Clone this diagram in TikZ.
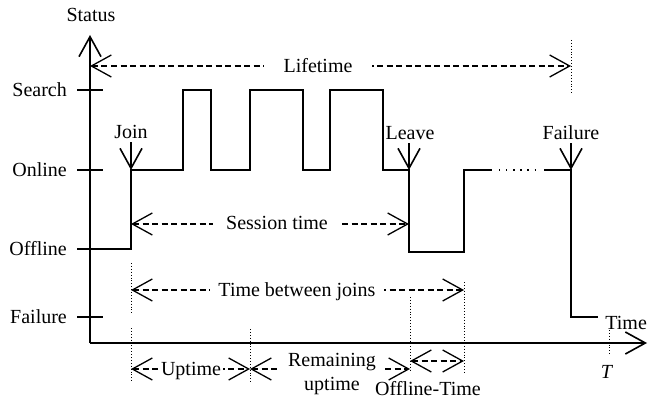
\documentclass[tikz,border=0pt]{standalone}
\usepackage{fontspec}
\setmainfont{Liberation Serif}
\usetikzlibrary{arrows.meta}
\begin{document}
\begin{tikzpicture}[x=1pt, y=1pt, line width=1.6pt,
    >={Straight Barb[length=20pt, width=22pt]},
    font=\fontsize{20}{24}\selectfont,
    meas/.style={line width=1.3pt, dash pattern=on 6pt off 3.5pt},
    guide/.style={line width=0.9pt, dotted},
    lab/.style={fill=white, inner ysep=1pt, text height=13pt, text depth=4pt}]
  \useasboundingbox (0,0) rectangle (648,400);

  % axes
  \coordinate (o) at (90,57);
  \draw[->] (o) -- (90,365);
  \draw[->] (o) -- (647,57);
  \node (status) at (91,385) {Status};
  \node[anchor=base east] (time) at (651,71) {Time};
  \foreach \lab/\y in {Search/310, Online/230, Offline/151, Failure/83} {
    \draw (77,\y) -- (103,\y);
    \node[anchor=east] (\lab) at (71,\y) {\lab};
  }

  % state of the peer
  \draw (90,151) -- (131,151) -- (131,230) -- (183,230) -- (183,310) -- (211,310)
    -- (211,230) -- (250,230) -- (250,310) -- (303,310) -- (303,230) -- (330,230)
    -- (330,310) -- (383,310) -- (383,230) -- (409,230) -- (409,148) -- (464,148)
    -- (464,230) -- (492,230);
  \draw[line width=1.3pt, dash pattern=on 1.3pt off 5.8pt] (499,230) -- (536,230);
  \draw (544,230) -- (571,230) -- (571,83) -- (598,83);

  % events
  \coordinate (join) at (131,230);
  \coordinate (leave) at (409,230);
  \coordinate (fail) at (571,230);
  \node[anchor=base] (jn) at (131,262) {Join};
  \node[anchor=base] (lv) at (410,261) {Leave};
  \node[anchor=base] (fl) at (571,261) {Failure};
  \draw[->] (join |- jn.south) -- (join);
  \draw[->] (leave |- lv.south) -- (leave);
  \draw[->] (fail |- fl.south) -- (fail);

  % guides
  \draw[guide] (571,360) -- (571,307);
  \draw[guide] (131,137) -- (131,85);
  \draw[guide] (131,72) -- (131,18);
  \draw[guide] (250,71) -- (250,18);
  \draw[guide] (410,103) -- (410,28);
  \draw[guide] (464,118) -- (464,28);
  \draw[guide] (609,70) -- (609,44);
  \node[anchor=base] (tend) at (607,22) {\textit{T}};

  % durations
  \draw[<->, meas] (90,334) -- (571,334);
  \node[lab, inner xsep=20pt] (life) at (318,332) {Lifetime};
  \draw[<->, meas] (131,176) -- (409,176);
  \node[lab, inner xsep=13pt] (sess) at (277,175) {Session time};
  \draw[<->, meas] (131,110) -- (464,110);
  \node[lab, inner xsep=8pt] (tbj) at (297,108) {Time between joins};
  \draw[<->, meas] (131,31) -- (250,31);
  \node[lab, inner xsep=2pt] (up) at (191,29) {Uptime};
  \draw[<->, meas] (250,31) -- (410,31);
  \node[fill=white, align=center, inner xsep=9pt, inner ysep=1pt] (rem) at (332,25.5) {Remaining\\uptime};
  \draw[<->, meas] (410,39) -- (464,39);
  \node[anchor=base] (off) at (428,5) {Offline-Time};
\end{tikzpicture}
\end{document}
